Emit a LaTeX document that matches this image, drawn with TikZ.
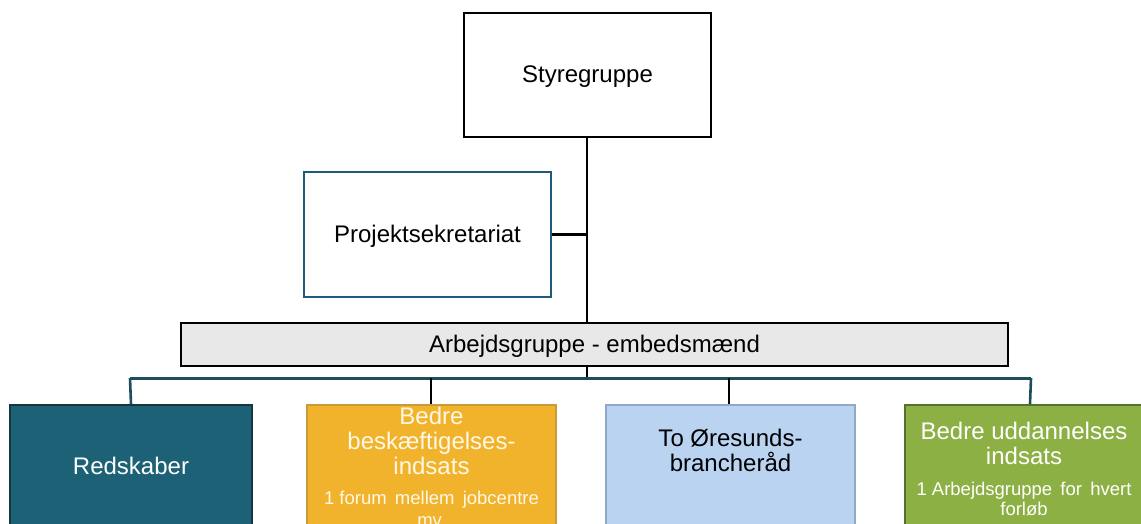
\documentclass[tikz,border=0pt]{standalone}
\usepackage{fontspec}
\setmainfont{Liberation Sans}
\definecolor{teal1}{HTML}{1D6176}
\definecolor{teal2}{HTML}{1E4E5E}
\definecolor{gold1}{HTML}{F2B32C}
\definecolor{gold2}{HTML}{C99A3A}
\definecolor{blue1}{HTML}{B9D3F1}
\definecolor{blue2}{HTML}{8DA9C6}
\definecolor{green1}{HTML}{8CB044}
\definecolor{green2}{HTML}{56702E}
\definecolor{projb}{HTML}{1F5A78}
\definecolor{cream}{HTML}{FFF8E6}
\tikzset{
  box/.style={draw, rectangle, inner sep=0pt, line width=2.2pt},
  big/.style={font=\fontsize{24}{25}\selectfont, align=center, inner sep=0pt},
  small/.style={font=\fontsize{18.5}{22}\selectfont, align=center, inner sep=0pt},
  ln/.style={line width=2.6pt, black},
  bar/.style={line width=3pt, teal2},
}
\begin{document}
\begin{tikzpicture}[x=1pt,y=-1pt]
\useasboundingbox (0,0) rectangle (1141,524);
\clip (0,0) rectangle (1141,524);
\fill[white] (0,0) rectangle (1141,524);
% top boxes
\node[box, minimum width=247pt, minimum height=124pt] (sty) at (587.5,75) {};
\node[big] (styt) at (587.5,77) {Styregruppe};
\node[box, draw=projb, minimum width=247pt, minimum height=125pt] (proj) at (427.5,234.5) {};
\node[big] (projt) at (427.5,236) {Projektsekretariat};
\node[box, fill=black!9, line width=2.4pt, minimum width=827pt, minimum height=43pt] (arb) at (594.5,344.5) {};
\node[big] (arbt) at (594.5,346) {Arbejdsgruppe - embedsmænd};
% connectors top
\coordinate (ctop) at (587,137);
\coordinate (cmid) at (587,234.5);
\coordinate (carb) at (587,323);
\coordinate (cbot) at (587,366);
\coordinate (cbar) at (587,378);
\draw[ln] (ctop) -- (carb);
\draw[ln] (proj.east) -- (cmid);
\draw[ln] (cbot) -- (cbar);
% bottom boxes
\node[box, fill=teal1, draw=teal2!70!black, line width=1.5pt, minimum width=242pt, minimum height=140pt, anchor=north] (red) at (131,404) {};
\node[big, text=white] (redt) at (131,466) {Redskaber};
\node[box, fill=gold1, draw=gold2, line width=1.5pt, minimum width=249pt, minimum height=140pt, anchor=north] (bes) at (431.5,404) {};
\node[big, text=cream] (best) at (431.5,441) {Bedre\\beskæftigelses-\\indsats};
\node[small, text=cream] (bess) at (431.5,509) {1 forum\, mellem\, jobcentre\\mv.};
\node[box, fill=blue1, draw=blue2, line width=1.5pt, minimum width=249pt, minimum height=140pt, anchor=north] (ore) at (730.5,404) {};
\node[big] (oret) at (730.5,450) {To Øresunds-\\brancheråd};
\node[box, fill=green1, draw=green2, line width=1.5pt, minimum width=250pt, minimum height=140pt, anchor=north] (udd) at (1030,404) {};
\node[big, text=white] (uddt) at (1024,443) {Bedre uddannelses\\indsats};
\node[small, text=white, font=\fontsize{18.5}{20}\selectfont] (udds) at (1024,499) {1 Arbejdsgruppe\, for\, hvert\\forløb};
% bar and drops
\coordinate (bl) at (130,378);
\coordinate (br) at (1031,378);
\draw[bar] (bl) -- (br);
\draw[ln, teal2] (bl) -- (red.north);
\draw[ln] (431,378) -- (bes.north -| 431,0);
\draw[ln] (729,378) -- (ore.north -| 729,0);
\draw[ln, teal2] (br) -- (udd.north);
\end{tikzpicture}
\end{document}
